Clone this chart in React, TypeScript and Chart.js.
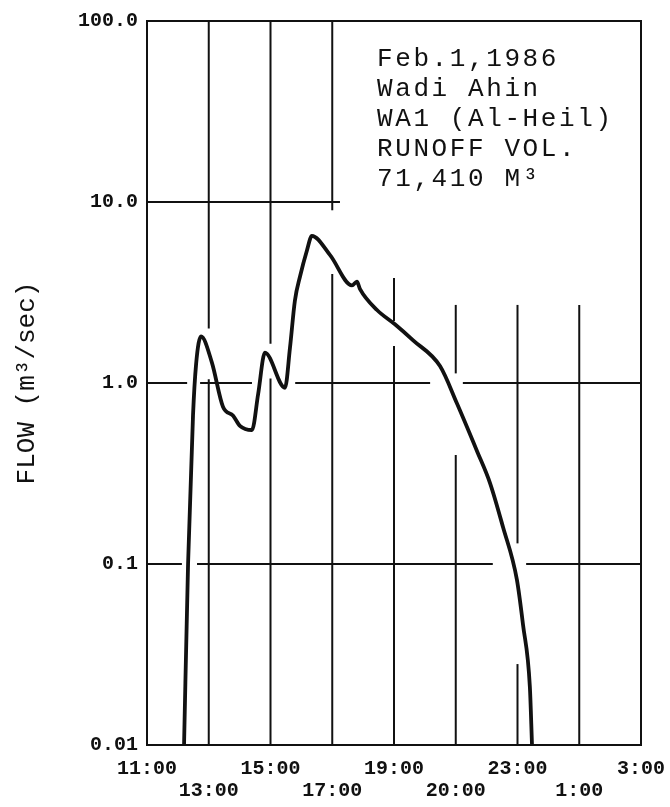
import React, { useEffect, useRef } from "react";
import { Chart, registerables } from "chart.js";

Chart.register(...registerables);

// Hydrograph: hours since midnight Feb 1 (25 = 1:00, 27 = 3:00 next day)
const HOURS = [12.2, 12.33, 12.49, 12.59, 12.75, 13.1, 13.46, 13.79, 14.01, 14.4, 14.6, 14.82, 15.47, 15.63, 15.79, 15.96, 16.18, 16.34, 16.93, 17.64, 17.8, 17.9, 18.45, 19.03, 19.62, 20.49, 21.04, 21.69, 22.11, 22.53, 22.98, 23.18, 23.4, 23.47];
const FLOW = [0.01, 0.1, 0.66, 1.27, 1.81, 1.3, 0.74, 0.66, 0.58, 0.55, 0.87, 1.47, 0.94, 1.56, 2.85, 3.9, 5.4, 6.5, 5.09, 3.46, 3.63, 3.3, 2.53, 2.11, 1.72, 1.24, 0.77, 0.42, 0.28, 0.16, 0.082, 0.046, 0.021, 0.01];

const X_TICK_HOURS = [11, 13, 15, 17, 19, 21, 23, 25, 27];
const X_TICK_LABELS = ["11:00", "13:00", "15:00", "17:00", "19:00", "20:00", "23:00", "1:00", "3:00"];
const Y_TICK_VALUES = [0.01, 0.1, 1, 10, 100];
const Y_TICK_LABELS = ["0.01", "0.1", "1.0", "10.0", "100.0"];

// Broken grid lines, in data units: [hour, flowFrom, flowTo]
const V_GRID: [number, number, number][] = [
  [13, 100, 2.0], [13, 1.05, 0.01],
  [15, 100, 1.65], [15, 1.06, 0.01],
  [17, 100, 9], [17, 4, 0.01],
  [19, 3.8, 2.2], [19, 1.6, 0.01],
  [21, 2.7, 1.13], [21, 0.4, 0.01],
  [23, 2.7, 0.13], [23, 0.028, 0.01],
  [25, 2.7, 0.01],
];
// [flow, hourFrom, hourTo]
const H_GRID: [number, number, number][] = [
  [10, 11, 17.25],
  [1, 11, 12.3], [1, 12.72, 14.4], [1, 15.8, 20.17], [1, 21.23, 27],
  [0.1, 11, 12.13], [0.1, 12.62, 22.2], [0.1, 23.28, 27],
];

const NOTE_LINES = ["Feb.1,1986", "Wadi Ahin", "WA1 (Al-Heil)", "RUNOFF VOL.", "71,410 M³"];

const MONO = "'Liberation Mono', 'DejaVu Sans Mono', monospace";

const gridPlugin = {
  id: "brokenGrid",
  beforeDatasetsDraw(chart: any) {
    const { ctx, chartArea, scales } = chart;
    const x = scales.x, y = scales.y;
    ctx.save();
    ctx.strokeStyle = "#111";
    ctx.lineWidth = 2;
    ctx.lineCap = "butt";
    for (const [h, a, b] of V_GRID) {
      const px = x.getPixelForValue(h);
      ctx.beginPath();
      ctx.moveTo(px, y.getPixelForValue(a));
      ctx.lineTo(px, y.getPixelForValue(b));
      ctx.stroke();
    }
    for (const [v, a, b] of H_GRID) {
      const py = y.getPixelForValue(v);
      ctx.beginPath();
      ctx.moveTo(x.getPixelForValue(a), py);
      ctx.lineTo(x.getPixelForValue(b), py);
      ctx.stroke();
    }
    ctx.strokeRect(chartArea.left, chartArea.top, chartArea.right - chartArea.left, chartArea.bottom - chartArea.top);
    ctx.restore();
  },
  afterDraw(chart: any) {
    const { ctx, chartArea } = chart;
    ctx.save();
    ctx.fillStyle = "#111";
    ctx.font = `26px ${MONO}`;
    (ctx as any).letterSpacing = "2.6px";
    ctx.textAlign = "left";
    ctx.textBaseline = "alphabetic";
    const left = chartArea.left + 230;
    NOTE_LINES.forEach((line, i) => {
      ctx.fillText(line, left, chartArea.top + 45 + i * 30);
    });
    ctx.restore();
  },
};

export default function App() {
  const ref = useRef<HTMLCanvasElement | null>(null);
  useEffect(() => {
    if (!ref.current) return;
    const chart = new Chart(ref.current, {
      type: "line",
      data: {
        datasets: [
          {
            label: "Flow",
            data: HOURS.map((h, i) => ({ x: h, y: FLOW[i] })),
            borderColor: "#111",
            borderWidth: 3.8,
            pointRadius: 0,
            fill: false,
            cubicInterpolationMode: "monotone",
          },
        ],
      },
      options: {
        responsive: false,
        animation: false,
        events: [],
        layout: { padding: { top: 15, right: 29, left: 0, bottom: 0 } },
        plugins: { legend: { display: false }, tooltip: { enabled: false } },
        scales: {
          x: {
            type: "linear",
            min: 11,
            max: 27,
            grid: { display: false, drawTicks: false },
            border: { display: false },
            afterBuildTicks: (s: any) => {
              s.ticks = X_TICK_HOURS.map((v) => ({ value: v }));
            },
            afterFit: (s: any) => {
              s.height = 62;
              s.paddingRight = 0;
              s.paddingLeft = 0;
            },
            ticks: {
              autoSkip: false,
              maxRotation: 0,
              minRotation: 0,
              padding: 13,
              color: "#111",
              font: { family: MONO, size: 20, weight: "bold", lineHeight: 1.1 },
              callback: (v: any) => {
                const i = X_TICK_HOURS.indexOf(Number(v));
                if (i < 0) return "";
                return i % 2 === 0 ? [X_TICK_LABELS[i], ""] : ["", X_TICK_LABELS[i]];
              },
            },
          },
          y: {
            type: "logarithmic",
            min: 0.01,
            max: 100,
            grid: { display: false, drawTicks: false },
            border: { display: false },
            afterBuildTicks: (s: any) => {
              s.ticks = Y_TICK_VALUES.map((v) => ({ value: v }));
            },
            afterFit: (s: any) => {
              s.width = 147;
            },
            title: {
              display: true,
              text: "FLOW (m³/sec)",
              color: "#111",
              font: { family: MONO, size: 26 },
              padding: { top: 12, bottom: 0 },
            },
            ticks: {
              padding: 9,
              color: "#111",
              font: { family: MONO, size: 20, weight: "bold" },
              callback: (v: any) => {
                const i = Y_TICK_VALUES.indexOf(Number(v));
                return i < 0 ? "" : Y_TICK_LABELS[i];
              },
            },
          },
        },
      },
      plugins: [gridPlugin],
    } as any);
    return () => chart.destroy();
  }, []);
  return (
    <div style={{ position: "fixed", left: 0, top: 0, width: 670, height: 807, background: "#fff" }}>
      <canvas ref={ref} width={670} height={807} style={{ display: "block" }} />
    </div>
  );
}
